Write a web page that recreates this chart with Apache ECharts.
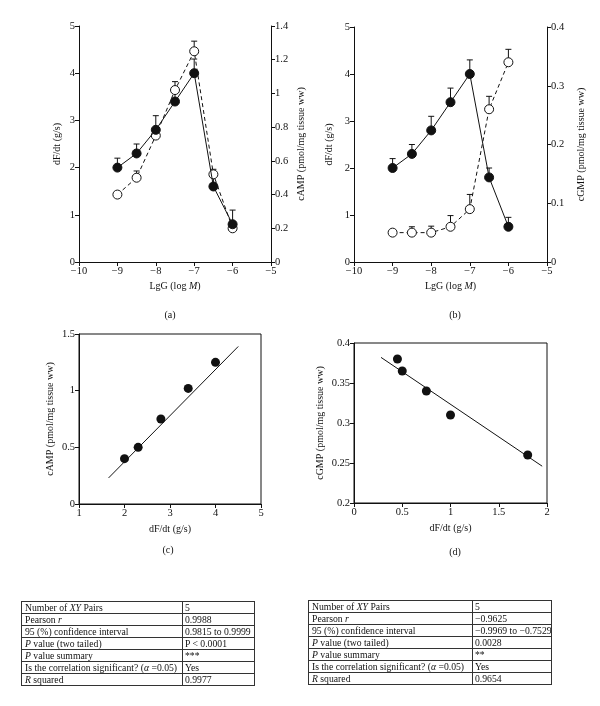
<!DOCTYPE html>
<html>
<head>
<meta charset="UTF-8">
<script src="https://cdn.jsdelivr.net/npm/echarts@6/dist/echarts.min.js"></script>
<style>
    body { margin: 0; background: #fff; }
    #wrap { position: relative; width: 600px; height: 706px; }
    #chart { position: absolute; left: 0; top: 0; width: 600px; height: 706px; }
    .stats { position: absolute; border-collapse: collapse; table-layout: fixed; font-family: "Liberation Serif", serif; font-size: 9.7px; color: #111; }
    .stats td { border: 1px solid #333; padding: 0 2px 0 3px; height: 11px; line-height: 11px; white-space: nowrap; overflow: hidden; }
    .stats td + td { padding-left: 2px; padding-right: 0; }
</style>
</head>
<body>
<div id="wrap">
    <div id="chart"></div>
    <table class="stats" id="tableC" style="left:21px;top:601px;width:234px"></table>
    <table class="stats" id="tableD" style="left:308px;top:600px;width:244px"></table>
</div>
<script>
// (a) / (b): dose response, x = LgG (log M)
var logG = [-9, -8.5, -8, -7.5, -7, -6.5, -6];
var dfdtA = [2.0, 2.3, 2.8, 3.4, 4.0, 1.6, 0.8];
var dfdtAHi = [2.2, 2.5, 3.1, 3.6, 4.3, 1.8, 1.1];
var campA = [0.40, 0.50, 0.75, 1.02, 1.25, 0.52, 0.20];
var campAHi = [0.41, 0.54, 0.77, 1.07, 1.31, 0.55, 0.21];
var dfdtB = [2.0, 2.3, 2.8, 3.4, 4.0, 1.8, 0.75];
var dfdtBHi = [2.2, 2.5, 3.1, 3.7, 4.3, 2.0, 0.95];
var cgmpB = [0.05, 0.05, 0.05, 0.06, 0.09, 0.26, 0.34];
var cgmpBHi = [0.05, 0.06, 0.061, 0.079, 0.115, 0.282, 0.362];

// (c) / (d): correlations
var corrCx = [2.0, 2.3, 2.8, 3.4, 4.0];
var corrCy = [0.40, 0.50, 0.75, 1.02, 1.25];
var fitC = [[1.65, 0.23], [4.5, 1.39]];
var corrDx = [0.45, 0.5, 0.75, 1.0, 1.8];
var corrDy = [0.38, 0.365, 0.34, 0.31, 0.26];
var fitD = [[0.28, 0.382], [1.95, 0.246]];

// tables
var statLabels = ['Number of <i>XY</i> Pairs', 'Pearson <i>r</i>', '95 (%) confidence interval',
    '<i>P</i> value (two tailed)', '<i>P</i> value summary',
    'Is the correlation significant? (<i>&alpha;</i> =0.05)', '<i>R</i> squared'];
var statsC = ['5', '0.9988', '0.9815 to 0.9999', 'P &lt; 0.0001', '***', 'Yes', '0.9977'];
var statsD = ['5', '&minus;0.9625', '&minus;0.9969 to &minus;0.7529', '0.0028', '**', 'Yes', '0.9654'];

function fillTable(id, vals, firstW) {
    var html = '';
    for (var i = 0; i < statLabels.length; i++) {
        html += '<tr><td style="width:' + firstW + 'px">' + statLabels[i] + '</td><td>' + vals[i] + '</td></tr>';
    }
    document.getElementById(id).innerHTML = html;
}
fillTable('tableC', statsC, 155);
fillTable('tableD', statsD, 158);

var FONT = 'Liberation Serif';
var INK = '#111';

function pair(xs, ys) {
    return xs.map(function (x, i) { return [x, ys[i]]; });
}
function triple(xs, ys, hs) {
    return xs.map(function (x, i) { return [x, ys[i], hs[i]]; });
}
function minus(v) { return String(v).replace('-', '\u2212'); }

function errRender(params, api) {
    var p0 = api.coord([api.value(0), api.value(1)]);
    var p1 = api.coord([api.value(0), api.value(2)]);
    var st = { stroke: INK, lineWidth: 1 };
    return {
        type: 'group',
        children: [
            { type: 'line', shape: { x1: p0[0], y1: p0[1], x2: p1[0], y2: p1[1] }, style: st },
            { type: 'line', shape: { x1: p1[0] - 3, y1: p1[1], x2: p1[0] + 3, y2: p1[1] }, style: st }
        ]
    };
}

function valAxis(o) {
    var base = {
        type: 'value',
        axisLine: { show: true, onZero: false, lineStyle: { color: INK, width: 1 } },
        axisTick: { show: true, length: 4, lineStyle: { color: INK } },
        axisLabel: { color: INK, fontFamily: FONT, fontSize: 10.5, margin: 4 },
        splitLine: { show: false },
        nameLocation: 'middle',
        nameTextStyle: { color: INK, fontFamily: FONT, fontSize: 10,
            rich: { i: { fontStyle: 'italic', fontFamily: FONT, fontSize: 10, color: INK } } }
    };
    for (var k in o) base[k] = o[k];
    return base;
}

var lgName = 'LgG (log {i|M})';
var dfName = 'dF/dt (g/s)';
var minusLabel = { color: INK, fontFamily: FONT, fontSize: 10.5, margin: 4, formatter: minus };

function lineSeries(x, y, yi, data, dashed, filled, z) {
    return {
        type: 'line', xAxisIndex: x, yAxisIndex: yi, data: data, z: z,
        symbol: 'circle', symbolSize: 9,
        lineStyle: { color: INK, width: 1, type: dashed ? [4, 3] : 'solid' },
        itemStyle: { color: filled ? INK : '#fff', borderColor: INK, borderWidth: 1, opacity: 1 },
        emphasis: { disabled: true }
    };
}
function errSeries(x, yi, data) {
    return { type: 'custom', xAxisIndex: x, yAxisIndex: yi, data: data, renderItem: errRender, z: 1, silent: true };
}
function dotSeries(x, yi, data) {
    return { type: 'scatter', xAxisIndex: x, yAxisIndex: yi, data: data, symbolSize: 9,
        itemStyle: { color: INK, opacity: 1 }, emphasis: { disabled: true } };
}
function fitSeries(x, yi, data) {
    return { type: 'line', xAxisIndex: x, yAxisIndex: yi, data: data, symbol: 'none',
        lineStyle: { color: INK, width: 1 } };
}
function caption(t, x, y) {
    return { type: 'text', x: x, y: y,
        style: { text: t, font: '10px "Liberation Serif"', fill: INK, textAlign: 'center', textVerticalAlign: 'middle' } };
}

var chart = echarts.init(document.getElementById('chart'));
chart.setOption({
    animation: false,
    grid: [
        { left: 79, top: 26, width: 192, height: 236, outerBoundsMode: 'none' },
        { left: 354, top: 27, width: 193, height: 235, outerBoundsMode: 'none' },
        { left: 79, top: 334, width: 182, height: 170, show: true, borderColor: INK, borderWidth: 1, outerBoundsMode: 'none' },
        { left: 354, top: 343, width: 193, height: 160, show: true, borderColor: INK, borderWidth: 1, outerBoundsMode: 'none' }
    ],
    xAxis: [
        valAxis({ gridIndex: 0, min: -10, max: -5, interval: 1, name: lgName, nameGap: 19, axisLabel: minusLabel }),
        valAxis({ gridIndex: 1, min: -10, max: -5, interval: 1, name: lgName, nameGap: 19, axisLabel: minusLabel }),
        valAxis({ gridIndex: 2, min: 1, max: 5, interval: 1, name: dfName, nameGap: 20 }),
        valAxis({ gridIndex: 3, min: 0, max: 2, interval: 0.5, name: dfName, nameGap: 20 })
    ],
    yAxis: [
        valAxis({ gridIndex: 0, min: 0, max: 5, interval: 1, name: dfName, nameGap: 17 }),
        valAxis({ gridIndex: 0, position: 'right', min: 0, max: 1.4, interval: 0.2,
            name: 'cAMP (pmol/mg tissue ww)', nameGap: 25, nameRotate: 90 }),
        valAxis({ gridIndex: 1, min: 0, max: 5, interval: 1, name: dfName, nameGap: 20 }),
        valAxis({ gridIndex: 1, position: 'right', min: 0, max: 0.4, interval: 0.1,
            name: 'cGMP (pmol/mg tissue ww)', nameGap: 29, nameRotate: 90 }),
        valAxis({ gridIndex: 2, min: 0, max: 1.5, interval: 0.5, name: 'cAMP (pmol/mg tissue ww)', nameGap: 24 }),
        valAxis({ gridIndex: 3, min: 0.2, max: 0.4, interval: 0.05, name: 'cGMP (pmol/mg tissue ww)', nameGap: 29 })
    ],
    series: [
        // (a)
        errSeries(0, 0, triple(logG, dfdtA, dfdtAHi)),
        errSeries(0, 1, triple(logG, campA, campAHi)),
        lineSeries(0, 0, 1, pair(logG, campA), true, false, 3),
        lineSeries(0, 0, 0, pair(logG, dfdtA), false, true, 4),
        // (b)
        errSeries(1, 2, triple(logG, dfdtB, dfdtBHi)),
        errSeries(1, 3, triple(logG, cgmpB, cgmpBHi)),
        lineSeries(1, 0, 3, pair(logG, cgmpB), true, false, 3),
        lineSeries(1, 0, 2, pair(logG, dfdtB), false, true, 4),
        // (c)
        fitSeries(2, 4, fitC),
        dotSeries(2, 4, pair(corrCx, corrCy)),
        // (d)
        fitSeries(3, 5, fitD),
        dotSeries(3, 5, pair(corrDx, corrDy))
    ],
    graphic: [
        caption('(a)', 170, 315),
        caption('(b)', 455, 315),
        caption('(c)', 168, 550),
        caption('(d)', 455, 552)
    ]
});
</script>
</body>
</html>
